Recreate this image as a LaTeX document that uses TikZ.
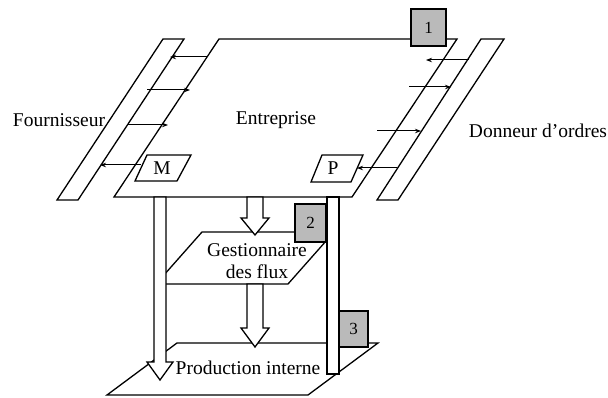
\documentclass[tikz,border=0pt]{standalone}
\usepackage{fontspec}
\setmainfont{Liberation Serif}
\usetikzlibrary{arrows.meta}
\begin{document}
\begin{tikzpicture}[x=1pt,y=-1pt,
  outl/.style={draw=black,line width=1.3pt,line join=miter},
  wshape/.style={draw=black,fill=white,line width=1.3pt},
  flow/.style={line width=1pt,-{Stealth[length=6pt,width=4.5pt]}},
  numbox/.style={draw=black,fill=black!27,line width=1.3pt},
  lab/.style={font=\fontsize{19.5}{22}\selectfont,inner sep=0pt},
  num/.style={font=\fontsize{17}{20}\selectfont,inner sep=0pt}]
\useasboundingbox (0,0) rectangle (608,398);
% ladders
\draw[outl] (163,39) -- (184,39) -- (78,200) -- (57,200) -- cycle;
\draw[outl] (481,39) -- (504,39) -- (398,200) -- (377,200) -- cycle;
% entreprise
\coordinate (eTL) at (219,39); \coordinate (eTR) at (457,39);
\coordinate (eBR) at (352,197); \coordinate (eBL) at (114,197);
\draw[outl] (eTL) -- (eTR) -- (eBR) -- (eBL) -- cycle;
% M and P
\draw[outl] (147,155) -- (191,155) -- (177,181) -- (135,181) -- cycle;
\node[lab] (M) at (162,168) {M};
\draw[outl] (322,155) -- (363,155) -- (351,182) -- (311,182) -- cycle;
\node[lab] (P) at (333,168) {P};
% left flows
\coordinate (l1a) at (208,57); \coordinate (l1b) at (170,57);
\coordinate (l2a) at (147,90); \coordinate (l2b) at (190,90);
\coordinate (l3a) at (128,125); \coordinate (l3b) at (168,125);
\coordinate (l4a) at (141,165); \coordinate (l4b) at (100,165);
\draw[flow] (l1a) -- (l1b);
\draw[flow] (l2a) -- (l2b);
\draw[flow] (l3a) -- (l3b);
\draw[flow] (l4a) -- (l4b);
% right flows
\coordinate (r1a) at (469,60); \coordinate (r1b) at (426,60);
\coordinate (r2a) at (409,87); \coordinate (r2b) at (451,87);
\coordinate (r3a) at (377,131); \coordinate (r3b) at (421,131);
\coordinate (r4a) at (397,168); \coordinate (r4b) at (357,168);
\draw[flow] (r1a) -- (r1b);
\draw[flow] (r2a) -- (r2b);
\draw[flow] (r3a) -- (r3b);
\draw[flow] (r4a) -- (r4b);
% box 1
\draw[numbox] (411,9) rectangle (446,46);
\node[num] (n1) at (428.5,28) {1};
% labels
\node[lab] (four) at (59,120) {Fournisseur};
\node[lab] (entr) at (276,120) {Entreprise};
\node[lab] (donn) at (538,131) {Donneur d'ordres};
% gestionnaire
\draw[wshape] (202,232) -- (334,232) -- (288,284) -- (156,284) -- cycle;
\node[lab] (g1) at (257,250) {Gestionnaire};
\node[lab] (g2) at (257,272) {des flux};
% production
\draw[wshape] (177,343) -- (378,343) -- (308,395) -- (107,395) -- cycle;
\node[lab] (prod) at (248,368) {Production interne};
% number boxes 2 and 3
\draw[numbox] (295,204) rectangle (326,242);
\node[num] (n2) at (310.5,223) {2};
\draw[numbox] (339,311) rectangle (368,347);
\node[num] (n3) at (353.5,329) {3};
% big arrows
\draw[wshape] (154,197) -- (166,197) -- (166,362) -- (173,362) -- (160,380) -- (147,362) -- (154,362) -- cycle;
\draw[wshape] (247,197) -- (263,197) -- (263,218) -- (269,218) -- (255,235) -- (241,218) -- (247,218) -- cycle;
\draw[wshape] (247,284) -- (263,284) -- (263,328) -- (269,328) -- (255,347) -- (241,328) -- (247,328) -- cycle;
\draw[wshape] (327,197) rectangle (339,374);
\end{tikzpicture}
\end{document}
